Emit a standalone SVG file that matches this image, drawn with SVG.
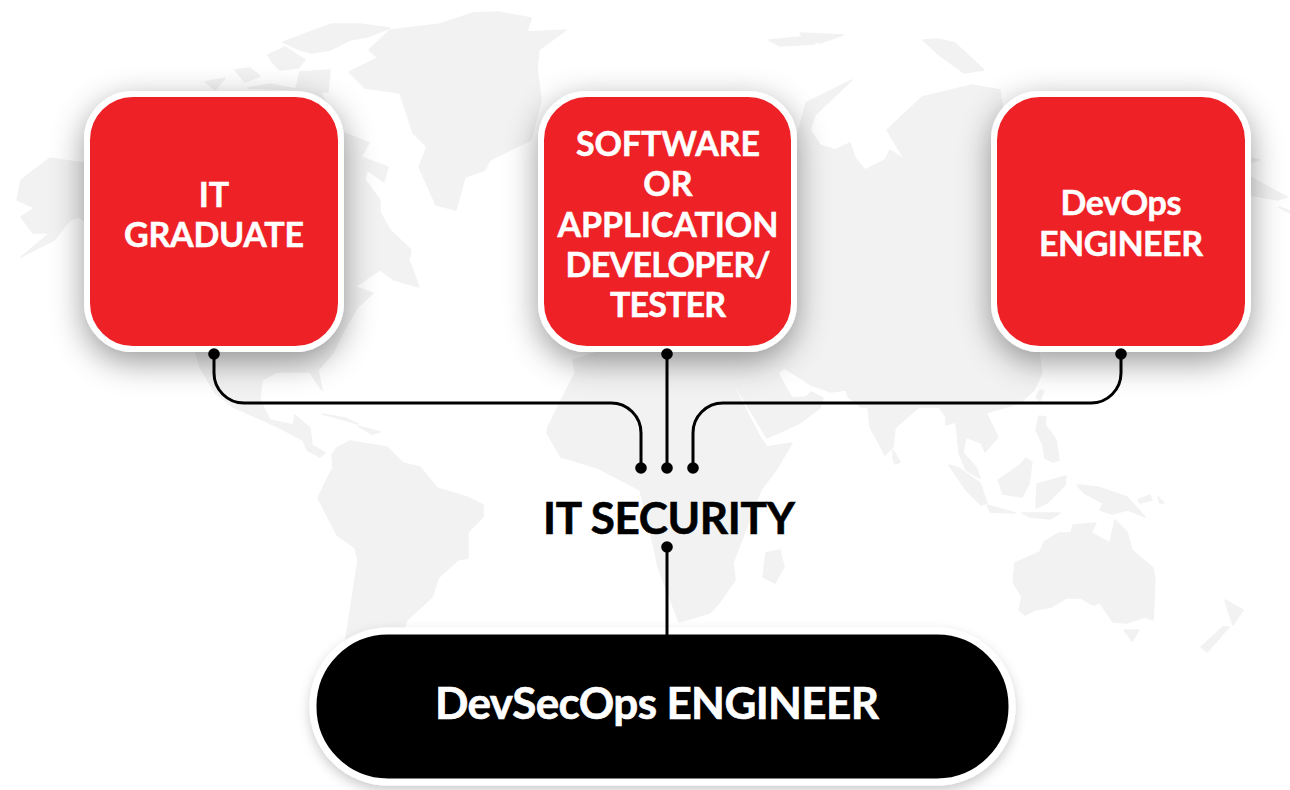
<svg xmlns="http://www.w3.org/2000/svg" width="1290" height="790" viewBox="0 0 1290 790">
<style>
.land{fill:#f2f2f2;stroke:#f2f2f2;stroke-width:1.5;stroke-linejoin:round}
.gap{fill:#fff;stroke:none}
.box{fill:#ee2226;stroke:#fff;stroke-width:6;filter:url(#sh)}
.pill{fill:#000;stroke:#fff;stroke-width:7;filter:url(#sh2)}
.t{font-family:Lato,"Liberation Sans",sans-serif;font-weight:700;text-anchor:middle}
.w{fill:#fff;stroke:#fff;stroke-width:.5;font-size:34px}
.k{fill:#000;stroke:#000;stroke-width:.6;font-size:44px}
.wire{fill:none;stroke:#000;stroke-width:3}
.dot{fill:#000}
</style>
<defs>
<filter id="sh" x="-30%" y="-30%" width="160%" height="160%"><feDropShadow dx="0" dy="10" stdDeviation="16" flood-color="#000" flood-opacity=".4"/></filter>
<filter id="sh2" x="-10%" y="-30%" width="120%" height="160%"><feDropShadow dx="0" dy="5" stdDeviation="6" flood-color="#000" flood-opacity=".2"/></filter>
</defs>
<rect width="1290" height="790" fill="#fff"/>
<g id="world-map" class="land">
<path d="M390 30L440 24L473 13L498 12L531 18L527 32L566 30L539 50L537 67L541 100L531 140L490 160L485 170L465 177L456 210L436 205L419 167L427 147L413 133L400 93L365 88L349 72L378 58L369 50Z"/>
<path d="M283 42L310 32L332 24L360 24L390 28L367 37L350 40L330 50L312 53L300 50Z"/>
<path d="M268 55L285 47L305 60L298 68L280 70L272 62ZM235 70L250 68L260 76L245 82ZM205 82L225 78L215 90ZM300 72L330 70L328 92L295 92ZM248 88L270 84L300 90Z"/>
<path d="M21 180L50 158L83 163L120 140L200 92L320 92L344 133L369 143L361 157L388 167L384 182L367 170L365 180L380 200L380 212L390 230L411 250L409 260L419 287L394 280L380 270L355 287L373 293L357 308L344 330L336 347L333 353L318 370L322 390L317 383L310 372L277 372L262 380L260 400L270 420L293 425L295 415L310 428L312 445L325 453L320 457L307 450L303 440L280 428L267 422L233 407L215 393L200 367L180 300L79 217L70 220L54 240L21 257L50 233L33 233L21 217L35 208L17 200Z"/>
<path d="M337 448L350 441L387 447L403 463L420 467L437 488L467 497L483 505L483 517L468 532L468 558L458 560L438 578L432 597L407 620L400 640L345 645L358 560L355 548L337 535L318 498L328 477L333 468L332 455Z"/>
<path d="M322 414L345 418L358 424L345 420ZM358 426L380 432L372 434Z"/>
<path d="M573 360L620 345L720 345L735 363L727 373L760 437L767 447L792 443L776 470L761 490L733 563L735 580L719 603L710 613L679 622L658 567L654 547L640 490L598 468L561 457L547 433L548 427L575 373Z"/>
<path d="M766 553L780 550L784 567L775 583L763 577Z"/>
<path d="M798 133L806 103L852 80L815 115L810 130L820 145L835 150L850 143L855 158L865 170L885 160L890 150L905 160L887 130L922 97L972 85L1000 90L1040 360L1042 373L1034 390L1020 403L986 413L998 437L985 452L981 443L966 437L963 453L976 467L980 478L966 470L959 453L956 422L946 425L946 417L939 407L919 407L895 428L893 447L885 455L870 427L868 407L861 407L848 397L846 390L831 392L811 385L785 368L778 373L792 398L806 397L811 392L823 398L820 408L800 423L767 438L727 372L722 340L750 200Z"/>
<path d="M923 40L938 39L955 43L984 70L964 73L939 55ZM769 40L800 37L815 44L780 46ZM800 33L843 35L820 43L805 40Z"/>
<path d="M1250 177L1287 197L1278 200L1250 195ZM1252 158L1260 160L1252 162ZM1279 207L1290 211L1290 213Z"/>
<path d="M1040 390L1044 391L1040 401L1036 397ZM893 450L900 462L895 464L893 458Z"/>
<path d="M1039 416L1046 417L1045 425L1052 434L1056 440L1059 460L1053 462L1045 458L1043 445L1036 430Z"/>
<path d="M1026 458L1032 462L1029 484L1022 497L1003 494L998 480L1020 465Z"/>
<path d="M1037 484L1066 476L1065 485L1047 503L1036 508Z"/>
<path d="M949 465L959 468L980 483L987 503L981 505L966 490Z"/>
<path d="M987 505L1015 513L990 512ZM1022 513L1060 513L1050 519L1030 517Z"/>
<path d="M1077 485L1098 487L1127 497L1145 517L1128 510L1112 514L1100 510L1103 503L1084 493Z"/>
<path d="M1138 500L1150 495L1152 500L1140 503ZM1158 497L1164 503L1160 503Z"/>
<path d="M1015 563L1040 552L1044 542L1059 533L1071 533L1073 525L1096 523L1091 533L1110 543L1115 520L1127 532L1132 550L1153 568L1155 580L1153 620L1145 617L1127 623L1113 622L1100 603L1093 605L1081 598L1066 598L1051 607L1035 610L1025 615L1019 610L1022 597L1013 582Z"/>
<path d="M1124 630L1139 630L1132 641Z"/>
<path d="M1225 600L1243 610L1233 625L1228 610ZM1229 627L1207 652L1201 647L1223 627Z"/>
</g>
<g id="node-it-graduate">
<rect class="box" x="87" y="94" width="254" height="255" rx="46"/>
<text class="t w" x="214" y="207">IT</text>
<text class="t w" x="214" y="247" textLength="180">GRADUATE</text>
</g>
<g id="node-developer">
<rect class="box" x="541" y="94" width="253" height="255" rx="46"/>
<text class="t w" x="668" y="156" textLength="184">SOFTWARE</text>
<text class="t w" x="668" y="196">OR</text>
<text class="t w" x="668" y="237" textLength="221">APPLICATION</text>
<text class="t w" x="668" y="277" textLength="205">DEVELOPER/</text>
<text class="t w" x="668" y="317" textLength="116">TESTER</text>
</g>
<g id="node-devops">
<rect class="box" x="994" y="94" width="254" height="255" rx="46"/>
<text class="t w" x="1121" y="215" textLength="121">DevOps</text>
<text class="t w" x="1121" y="256" textLength="164">ENGINEER</text>
</g>
<g id="node-it-security">
<text class="t k" x="669" y="534" textLength="252">IT SECURITY</text>
</g>
<g id="node-devsecops">
<rect class="pill" x="313" y="631" width="699" height="151" rx="75"/>
<text class="t k" x="657" y="719" style="fill:#fff;stroke:#fff" textLength="444">DevSecOps ENGINEER</text>
</g>
<g id="connectors">
<path class="wire" d="M214 354V373A30 30 0 0 0 244 403H611A30 30 0 0 1 641 433V468"/>
<path class="wire" d="M667 354V468"/>
<path class="wire" d="M1121 354V373A30 30 0 0 1 1091 403H723A30 30 0 0 0 693 433V468"/>
<path class="wire" d="M667 547V635"/>
<circle class="dot" cx="214" cy="354" r="5.8"/>
<circle class="dot" cx="667" cy="354" r="5.8"/>
<circle class="dot" cx="1121" cy="354" r="5.8"/>
<circle class="dot" cx="641" cy="468" r="5.8"/>
<circle class="dot" cx="667" cy="468" r="5.8"/>
<circle class="dot" cx="693" cy="468" r="5.8"/>
<circle class="dot" cx="667" cy="547" r="5.8"/>
</g>
</svg>
